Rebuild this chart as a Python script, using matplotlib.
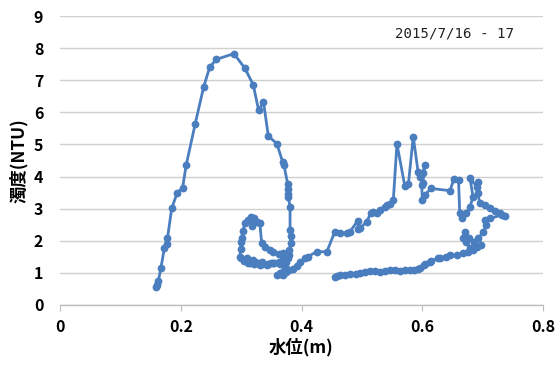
import matplotlib
matplotlib.use("Agg")
import matplotlib.pyplot as plt

# Water level (m) and turbidity (NTU), read along the hysteresis path
water_level = [
    0.159, 0.160, 0.163, 0.167, 0.173, 0.177, 0.178, 0.185, 0.194, 0.203,
    0.209, 0.224, 0.238, 0.248, 0.259, 0.288, 0.306, 0.320, 0.329, 0.337,
    0.345, 0.359, 0.369, 0.371, 0.377, 0.377, 0.377, 0.378, 0.381, 0.381,
    0.382, 0.382, 0.380, 0.380, 0.378, 0.372, 0.365, 0.355, 0.345, 0.335,
    0.325, 0.315, 0.305, 0.300, 0.298, 0.299, 0.300, 0.301, 0.303, 0.306,
    0.311, 0.317, 0.322, 0.318, 0.326, 0.331, 0.334, 0.340, 0.347, 0.353,
    0.362, 0.370, 0.375, 0.370, 0.362, 0.352, 0.342, 0.332, 0.322, 0.312,
    0.305, 0.310, 0.320, 0.335, 0.350, 0.365, 0.375, 0.372, 0.365, 0.360,
    0.365, 0.370, 0.375, 0.380, 0.386, 0.392, 0.397, 0.405, 0.410, 0.425,
    0.442, 0.455, 0.464, 0.475, 0.480, 0.493, 0.494, 0.497, 0.508, 0.515,
    0.519, 0.525, 0.530, 0.538, 0.541, 0.547, 0.552, 0.558, 0.571, 0.577,
    0.585, 0.593, 0.596, 0.601, 0.604, 0.601, 0.599, 0.600, 0.604, 0.615,
    0.646, 0.652, 0.660, 0.662, 0.665, 0.673, 0.679, 0.684, 0.679, 0.690,
    0.693, 0.692, 0.695, 0.703, 0.712, 0.720, 0.728, 0.737, 0.732, 0.712,
    0.704, 0.706, 0.701, 0.693, 0.698, 0.690, 0.684, 0.679, 0.673, 0.668,
    0.671, 0.678, 0.685, 0.682, 0.676, 0.668, 0.657, 0.646, 0.640, 0.629,
    0.626, 0.615, 0.613, 0.605, 0.602, 0.596, 0.593, 0.586, 0.579, 0.571,
    0.563, 0.555, 0.546, 0.538, 0.530, 0.522, 0.513, 0.505, 0.497, 0.490,
    0.480, 0.472, 0.464, 0.458, 0.455,
]
turbidity = [
    0.56, 0.63, 0.76, 1.14, 1.78, 1.91, 2.08, 3.01, 3.49, 3.65,
    4.36, 5.65, 6.80, 7.41, 7.65, 7.83, 7.38, 6.86, 6.06, 6.33,
    5.26, 5.03, 4.44, 4.35, 3.78, 3.60, 3.47, 3.37, 3.06, 2.35,
    2.14, 1.93, 1.72, 1.56, 1.45, 1.38, 1.32, 1.30, 1.28, 1.28,
    1.30, 1.32, 1.38, 1.45, 1.50, 1.75, 1.97, 2.10, 2.30, 2.54,
    2.65, 2.75, 2.70, 2.45, 2.60, 2.54, 1.92, 1.80, 1.70, 1.66,
    1.60, 1.61, 1.50, 1.40, 1.35, 1.30, 1.26, 1.25, 1.27, 1.30,
    1.40, 1.45, 1.40, 1.35, 1.30, 1.28, 1.35, 1.20, 1.00, 0.93,
    0.95, 0.93, 1.04, 1.08, 1.12, 1.20, 1.35, 1.45, 1.50, 1.66,
    1.66, 2.28, 2.23, 2.25, 2.28, 2.62, 2.37, 2.39, 2.60, 2.87,
    2.91, 2.87, 2.96, 3.06, 3.12, 3.16, 3.27, 5.02, 3.71, 3.77,
    5.24, 4.15, 4.00, 4.12, 4.36, 3.80, 3.74, 3.27, 3.43, 3.63,
    3.56, 3.92, 3.89, 2.86, 2.70, 2.86, 3.06, 3.37, 3.95, 3.69,
    3.84, 3.50, 3.17, 3.10, 3.01, 2.93, 2.86, 2.77, 2.80, 2.70,
    2.65, 2.49, 2.28, 2.08, 1.87, 1.80, 1.71, 1.77, 1.97, 2.08,
    2.28, 2.10, 1.95, 1.75, 1.65, 1.61, 1.55, 1.56, 1.50, 1.45,
    1.45, 1.38, 1.35, 1.28, 1.25, 1.15, 1.11, 1.10, 1.09, 1.08,
    1.07, 1.10, 1.09, 1.06, 1.04, 1.06, 1.07, 1.04, 1.01, 0.98,
    0.97, 0.94, 0.93, 0.89, 0.87,
]

x_ticks = [0, 0.2, 0.4, 0.6, 0.8]
x_tick_labels = ["0", "0.2", "0.4", "0.6", "0.8"]
y_ticks = list(range(0, 10))
x_label = "水位(m)"
y_label = "濁度(NTU)"
annotation = "2015/7/16 - 17"

plt.rcParams['font.family'] = ['Noto Sans CJK JP', 'DejaVu Sans']

fig = plt.figure(figsize=(5.57, 3.65), dpi=100)
ax = fig.add_axes([0.1077, 0.1644, 0.8673, 0.7916])

color = '#4A7EBF'
ax.plot(water_level, turbidity, color=color, linewidth=2.0,
        marker='o', markersize=5.6, markeredgewidth=0, zorder=3)

ax.set_xlim(0, 0.8)
ax.set_ylim(0, 9)
ax.set_xticks(x_ticks)
ax.set_xticklabels(x_tick_labels)
ax.set_yticks(y_ticks)

ax.grid(axis='y', color='#d0d0d0', linewidth=1.0, zorder=0)
ax.set_axisbelow(True)

for s in ['top', 'right', 'left']:
    ax.spines[s].set_visible(False)
ax.spines['bottom'].set_color('#bdbdbd')
ax.spines['bottom'].set_linewidth(1.0)

ax.tick_params(axis='x', direction='out', length=4, color='#bdbdbd',
               pad=6, labelsize=11.5)
ax.tick_params(axis='y', length=0, pad=12, labelsize=11.5)
for lab in ax.get_xticklabels() + ax.get_yticklabels():
    lab.set_fontweight('bold')

ax.set_xlabel(x_label, fontsize=12.5, fontweight='bold', labelpad=2)
ax.set_ylabel(y_label, fontsize=12.5, fontweight='bold', labelpad=4)

ax.text(0.555, 8.47, annotation, fontsize=10.2, family='DejaVu Sans Mono',
        va='center', ha='left', color='#222222')

fig.savefig('out.png', dpi=100)
